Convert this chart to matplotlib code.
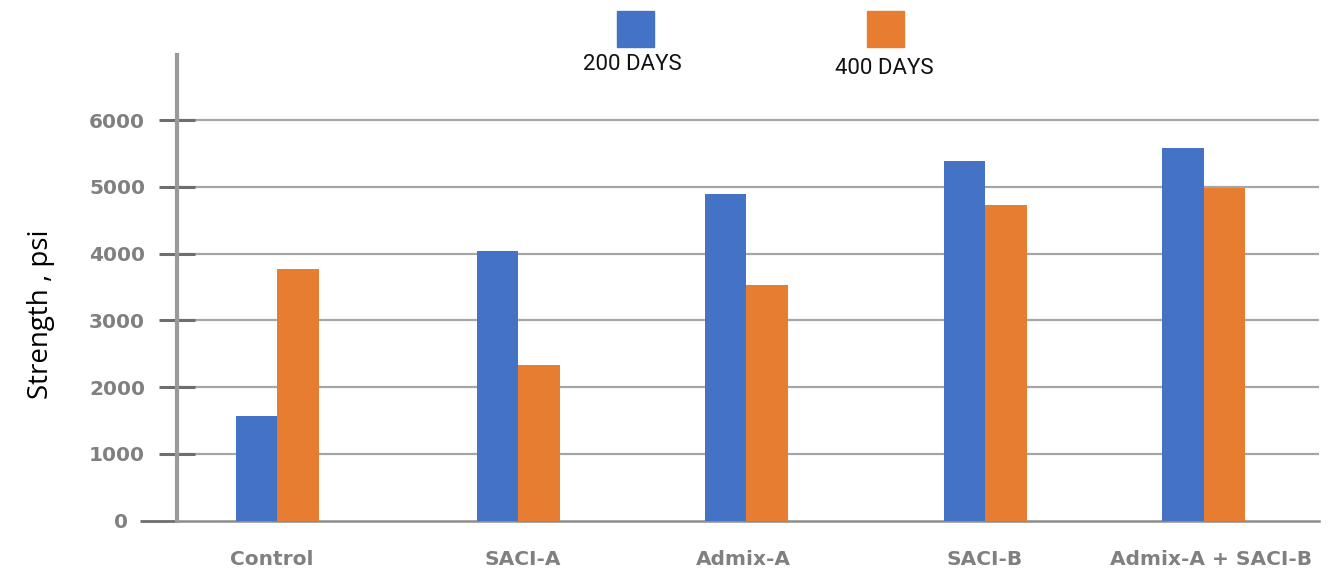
import matplotlib
matplotlib.use("Agg")
import matplotlib.pyplot as plt
from matplotlib.patches import Rectangle

# ---- data -------------------------------------------------------------
categories = ["Control", "SACI-A", "Admix-A", "SACI-B", "Admix-A + SACI-B"]
strength_200 = [1566, 4042, 4891, 5386, 5581]
strength_400 = [3768, 2330, 3528, 4727, 4981]
series_names = ["200 DAYS", "400 DAYS"]
y_ticks = [1000, 2000, 3000, 4000, 5000, 6000]

# ---- layout -----------------------------------------------------------
W, H = 1333, 574
group_x = [100, 341, 569, 808, 1026.5]      # group centres (axis units)
label_x = [95, 346, 566, 808, 1034]         # category label centres
bar_w = 41.5
BLUE, ORANGE = "#4472C4", "#E67D31"
TICK_GREY = "#808080"

fig = plt.figure(figsize=(W / 100, H / 100), dpi=100)
left, right = 177 / W, 1319 / W
bottom, top = 1 - 520.5 / H, 1 - 55 / H
ax = fig.add_axes([left, bottom, right - left, top - bottom])

blue_x = [g - bar_w / 2 for g in group_x]
orange_x = [g + bar_w / 2 for g in group_x]
ax.bar(blue_x, strength_200, width=bar_w, color=BLUE, zorder=3)
ax.bar(orange_x, strength_400, width=bar_w, color=ORANGE, zorder=3)

ax.set_xlim(0, 1142)
ax.set_ylim(0, 6974)

# gridlines
for v in y_ticks:
    ax.axhline(v, color="#A6A6A6", lw=1.6, zorder=1)

# spines
for s in ("top", "right"):
    ax.spines[s].set_visible(False)
ax.spines["left"].set_color("#9A9A9A")
ax.spines["left"].set_linewidth(3.0)
ax.spines["left"].set_zorder(4)
ax.spines["bottom"].set_color("#8C8C8C")
ax.spines["bottom"].set_linewidth(1.8)

tick_font = dict(family="DejaVu Sans", weight="bold", size=14.5)

# y ticks crossing the axis
ax.set_yticks(y_ticks)
ax.set_yticklabels([str(v) for v in y_ticks], color=TICK_GREY, **tick_font)
ax.tick_params(axis="y", which="major", direction="inout", length=26,
               width=2.2, color="#6E6E6E", pad=10)
# zero tick drawn only outward
ax.set_yticks([0], minor=True)
ax.set_yticklabels(["0"], minor=True, color=TICK_GREY, **tick_font)
ax.tick_params(axis="y", which="minor", direction="out", length=27,
               width=2.0, color="#6E6E6E", pad=8.5)

# category labels
ax.set_xticks(label_x)
ax.set_xticklabels(categories, color=TICK_GREY, **tick_font)
ax.tick_params(axis="x", length=0, pad=21)

# y axis title
fig.text(41 / W, 1 - 314 / H, "Strength , psi", rotation=90,
         ha="center", va="center", family="Open Sans", size=20, color="black")

# legend: coloured squares with captions underneath
legend_items = [(617, 632, 65, BLUE), (867, 884, 68, ORANGE)]
for (sx, tx, ty, col), name in zip(legend_items, series_names):
    fig.add_artist(Rectangle((sx / W, 1 - 47 / H), 36.5 / W, 36 / H,
                             transform=fig.transFigure, color=col))
    fig.text(tx / W, 1 - ty / H, name, ha="center", va="center",
             family="Roboto", size=16, color="#111111")

fig.savefig("out.png", dpi=100)
